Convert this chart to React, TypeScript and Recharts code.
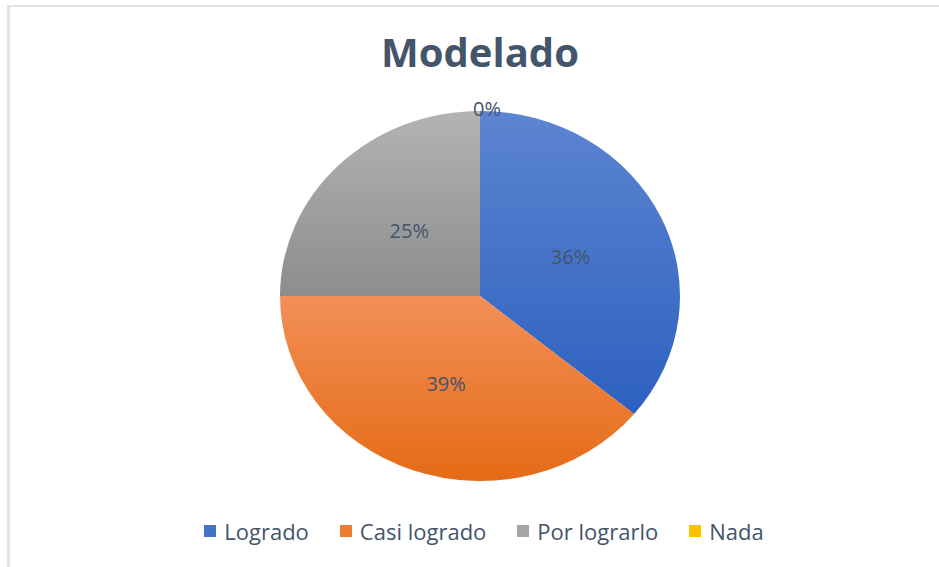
import React from 'react';
import { PieChart, Pie, Cell, Sector, Legend } from 'recharts';

const title = 'Modelado';
const categories = ['Logrado', 'Casi logrado', 'Por lograrlo', 'Nada'];
const values = [36, 39, 25, 0];
const legendColors = ['#4472C4', '#ED7D31', '#A5A5A5', '#FFC000'];
const gradTop = ['#5C85D1', '#F28F57', '#B3B3B3', '#FFCB2E'];
const gradBottom = ['#2D60BF', '#E56B16', '#8D8D8D', '#F0B400'];

const data = categories.map((name, i) => ({ name, value: values[i] }));

const X_STRETCH = 200 / 185;
const TEXT = '#44546A';
const FONT = '"Open Sans", "Noto Sans", sans-serif';

const StretchedSector = (props: any) => {
  const { cx, cy } = props;
  return (
    <g transform={`translate(${cx},${cy}) scale(${X_STRETCH},1) translate(${-cx},${-cy})`}>
      <Sector {...props} stroke="none" />
    </g>
  );
};

const RAD = Math.PI / 180;
const renderLabel = (props: any) => {
  const { cx, cy, midAngle, outerRadius, value } = props;
  let x: number;
  let y: number;
  if (value === 0) {
    x = cx + 7;
    y = cy - outerRadius - 3;
  } else {
    const r = outerRadius * 0.5;
    x = cx + r * Math.cos(-midAngle * RAD) * X_STRETCH;
    y = cy + r * Math.sin(-midAngle * RAD);
  }
  return (
    <text
      x={x}
      y={y}
      fill={TEXT}
      fontSize={20}
      fontFamily={FONT}
      textAnchor="middle"
      dominantBaseline="central"
    >
      {`${value}%`}
    </text>
  );
};

const renderLegend = () => (
  <div
    style={{
      display: 'flex',
      justifyContent: 'center',
      alignItems: 'center',
      gap: 31,
      fontFamily: FONT,
      fontSize: 22,
      lineHeight: '22px',
      color: TEXT,
      marginLeft: 29,
    }}
  >
    {categories.map((c, i) => (
      <div key={c} style={{ display: 'flex', alignItems: 'center' }}>
        <span
          style={{
            display: 'inline-block',
            width: 12,
            height: 12,
            background: legendColors[i],
            marginRight: 8,
          }}
        />
        <span>{c}</span>
      </div>
    ))}
  </div>
);

export default function App() {
  return (
    <div
      style={{
        position: 'absolute',
        left: 0,
        top: 0,
        width: 939,
        height: 567,
        background: '#ffffff',
        overflow: 'hidden',
      }}
    >
      <div
        style={{
          position: 'absolute',
          left: 7,
          top: 5,
          right: 0,
          bottom: 0,
          borderTop: '2px solid #DEE3EB',
          borderLeft: '3px solid #DEE3EB',
        }}
      />
      <div
        style={{
          position: 'absolute',
          left: 0,
          top: 32,
          width: 960,
          textAlign: 'center',
          fontFamily: FONT,
          fontWeight: 700,
          fontSize: 40,
          lineHeight: '40px',
          color: TEXT,
        }}
      >
        {title}
      </div>
      <div style={{ position: 'absolute', left: 0, top: 0 }}>
        <PieChart width={939} height={567} margin={{ top: 0, right: 0, bottom: 0, left: 0 }}>
          <defs>
            {categories.map((c, i) => (
              <linearGradient key={c} id={`grad${i}`} x1="0" y1="0" x2="0" y2="1">
                <stop offset="0%" stopColor={gradTop[i]} />
                <stop offset="100%" stopColor={gradBottom[i]} />
              </linearGradient>
            ))}
          </defs>
          <Pie
            data={data}
            dataKey="value"
            nameKey="name"
            cx={480}
            cy={296}
            outerRadius={185}
            startAngle={90}
            endAngle={-270}
            stroke="none"
            shape={StretchedSector}
            label={renderLabel}
            labelLine={false}
            isAnimationActive={false}
          >
            {data.map((d, i) => (
              <Cell key={d.name} fill={`url(#grad${i})`} />
            ))}
          </Pie>
          <Legend
            content={renderLegend}
            wrapperStyle={{ position: 'absolute', left: 0, top: 520, width: 939 }}
          />
        </PieChart>
      </div>
    </div>
  );
}
